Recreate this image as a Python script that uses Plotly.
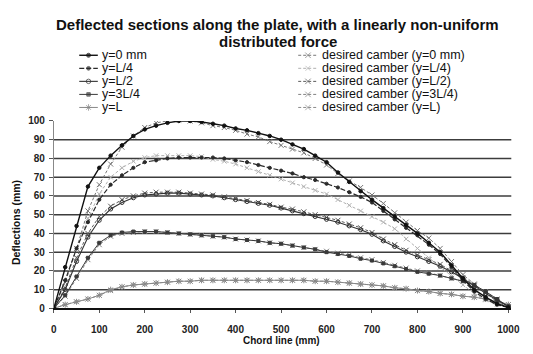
import plotly.graph_objects as go

# ---------------------------------------------------------------- data
CHORD_MM = [0, 25, 50, 75, 100, 125, 150, 175, 200, 225, 250, 275, 300, 325, 350,
            375, 400, 425, 450, 475, 500, 525, 550, 575, 600, 625, 650, 675, 700,
            725, 750, 775, 800, 825, 850, 875, 900, 925, 950, 975, 1000]

# deflected sections (mm)
defl_y0 = [0, 22, 44, 65, 75, 81.5, 87, 92, 95.5, 97.5, 99, 100, 100, 99.5, 98.5,
           97.5, 96, 95, 93.5, 92, 90, 87.5, 85, 81.5, 78, 72.5, 67.5, 62.5, 58,
           53.5, 49, 44.5, 40, 35, 30, 23, 16, 10, 6, 2.5, 0.5]
defl_yL4 = [0, 15, 32, 46, 58, 66, 71, 75, 78, 79, 80, 80.5, 80.5, 80.5, 80.5,
            80, 79, 78, 76.5, 75, 73.5, 72, 70, 68.5, 66.5, 64.5, 62, 59.5, 56.5,
            52, 47.5, 43, 39, 34, 29, 22, 15, 9, 5, 2, 0.5]
defl_yL2 = [0, 10, 25, 38, 47, 53, 56.5, 59, 60.5, 61, 61.5, 61.5, 61, 60.5, 60,
            59, 58, 57, 56, 55, 53.5, 52, 50.5, 49, 47.5, 46, 44, 42, 39.5,
            36, 33, 30, 27.5, 25, 22.5, 19.5, 16, 12, 8, 4.5, 1]
defl_y3L4 = [0, 7, 17, 27, 35, 39, 40.5, 41, 41, 41, 40.5, 40, 39.5, 39, 38.5,
             38, 37, 36.5, 36, 35, 34.5, 33.5, 32.5, 31.5, 30, 29, 28, 26.5, 25.5,
             24, 22.5, 21, 19.5, 18.5, 17.5, 16, 14.5, 12.5, 9, 5, 1]
defl_yL = [0, 2, 3.5, 5, 7, 10, 11.5, 12.5, 13, 13.5, 14, 14.5, 14.5, 15, 15,
           15, 15, 15, 15, 15, 15, 15, 15, 14.5, 14.5, 14, 13.5, 13, 12.5,
           12, 11, 10.5, 9.5, 9, 8, 7.5, 6.5, 6, 5, 3.5, 2]

# desired camber lines (mm)
camb_y0 = [0, 14, 32, 52, 66, 77, 86, 92, 96.5, 99, 100, 100.5, 100, 99, 97.5,
           96.5, 95, 93, 91.5, 89, 87, 85, 83, 80, 76.5, 72, 68, 64.5, 60.5,
           56, 51, 46, 41.5, 37.5, 32, 25, 18, 13, 8, 3.5, 0.5]
camb_yL4 = [0, 14, 32, 48, 61, 70, 75, 78.5, 80.5, 81.5, 81.5, 81.5, 81.5, 81, 79.5,
            78.5, 77, 75, 73, 71, 69, 67, 65, 63, 61, 58, 55, 52, 49,
            46, 42.5, 37, 32, 27, 22, 17, 12.5, 8, 4.5, 2, 0.5]
camb_yL2 = [0, 11, 27, 40, 49, 54.5, 58, 60, 61.5, 62, 62, 62, 61.5, 61, 60.5,
            59.5, 58.5, 57.5, 56.5, 55.5, 54, 53, 51.5, 50, 48.5, 47, 45, 43, 40.5,
            37, 34, 31, 28.5, 26, 23.5, 20, 16.5, 12.5, 8.5, 4.5, 1]
camb_y3L4 = [0, 6.5, 16, 26, 34, 38.5, 40, 40.5, 41, 41, 40.5, 40, 39.5, 39, 38.5,
             38, 37, 36.5, 36, 35, 34.5, 33.5, 32.5, 31.5, 30.5, 29.5, 28.5, 27, 26,
             24.5, 23, 21.5, 20, 19, 17.5, 16, 14.5, 12, 9, 5, 1]
camb_yL = [0, 2, 3.5, 5, 7, 9.5, 11.5, 12.5, 13, 13.5, 14, 14.5, 14.5, 15, 15,
           15, 15, 15, 15, 15, 15, 15, 15, 14.5, 14.5, 14, 13.5, 13, 12.5,
           12, 11, 10.5, 9.5, 9, 8, 7.5, 6.5, 6, 5, 4, 2]

ACTUAL_NAMES = ["y=0 mm", "y=L/4", "y=L/2", "y=3L/4", "y=L"]
CAMBER_NAMES = ["desired camber (y=0 mm)", "desired camber (y=L/4)",
                "desired camber (y=L/2)", "desired camber (y=3L/4)",
                "desired camber (y=L)"]
ACTUAL_DATA = [defl_y0, defl_yL4, defl_yL2, defl_y3L4, defl_yL]
CAMBER_DATA = [camb_y0, camb_yL4, camb_yL2, camb_y3L4, camb_yL]

Y_TICKS = [0, 10, 20, 30, 40, 50, 60, 70, 80, 90, 100]
GRID_Y = [10, 20, 30, 40, 50, 60, 70, 80, 90]
X_TICKS = [0, 100, 200, 300, 400, 500, 600, 700, 800, 900, 1000]

TITLE_LINES = ["Deflected sections along the plate, with a linearly non-uniform",
               "distributed force"]

# ---------------------------------------------------------------- styles
W, H = 533, 354
PL, PR, PT, PB = 52, 520, 119, 313          # plot area in pixels
FONT = "Liberation Sans, Arial, sans-serif"

ACTUAL_STYLE = [
    dict(color="#111111", dash="solid", symbol="circle", size=3.5, width=1.4),
    dict(color="#2a2a2a", dash="5px,2px", symbol="circle", size=3.2, width=1.2),
    dict(color="#333333", dash="solid", symbol="circle-open", size=4, width=1.1),
    dict(color="#3a3a3a", dash="solid", symbol="square", size=3, width=1.0),
    dict(color="#888888", dash="solid", symbol="asterisk-open", size=5, width=1.0),
]
CAMBER_STYLE = [
    dict(color="#777777", dash="3px,2px", symbol="x-thin-open", size=5, width=1.0),
    dict(color="#b0b0b0", dash="3px,2px", symbol="x-thin-open", size=4.5, width=1.0),
    dict(color="#5a5a5a", dash="3px,2px", symbol="x-thin-open", size=5, width=1.0),
    dict(color="#808080", dash="3px,2px", symbol="x-thin-open", size=5, width=1.0),
    dict(color="#8a8a8a", dash="3px,2px", symbol="x-thin-open", size=5, width=1.0),
]


def add_series(name, values, st):
    fig.add_trace(go.Scatter(
        x=CHORD_MM, y=values, name=name, mode="lines+markers",
        line=dict(color=st["color"], dash=st["dash"], width=st["width"]),
        marker=dict(symbol=st["symbol"], size=st["size"], color=st["color"],
                    line=dict(color=st["color"], width=1)),
        showlegend=False, xaxis="x", yaxis="y"))


fig = go.Figure()

# camber lines underneath, deflected sections on top
for name, vals, st in zip(CAMBER_NAMES[::-1], CAMBER_DATA[::-1], CAMBER_STYLE[::-1]):
    add_series(name, vals, st)
for name, vals, st in zip(ACTUAL_NAMES[::-1], ACTUAL_DATA[::-1], ACTUAL_STYLE[::-1]):
    add_series(name, vals, st)

# ---------------------------------------------------------------- legend keys
# a full-figure pixel overlay (x2/y2) carries the small legend samples
LEG_ROW0, LEG_STEP = 51, 13.5
LEG_COLS = [(78, 97, ACTUAL_NAMES, ACTUAL_STYLE), (302, 322, CAMBER_NAMES, CAMBER_STYLE)]
annotations = []
for x0, x1, names, styles in LEG_COLS:
    for i, (name, st) in enumerate(zip(names, styles)):
        yy = LEG_ROW0 + i * LEG_STEP
        fig.add_trace(go.Scatter(
            x=[x0, (x0 + x1) / 2, x1], y=[yy, yy, yy], mode="lines+markers",
            line=dict(color=st["color"], dash=st["dash"], width=st["width"]),
            marker=dict(symbol=st["symbol"], size=[0, st["size"] + 0.5, 0],
                        color=st["color"], line=dict(color=st["color"], width=1)),
            showlegend=False, hoverinfo="skip", xaxis="x2", yaxis="y2"))
        annotations.append(dict(
            text=name, x=(x1 + 2) / W, y=1 - yy / H, xref="paper", yref="paper",
            xanchor="left", yanchor="middle", showarrow=False,
            font=dict(family=FONT, size=12.5, color="#111111")))

# axis titles
annotations.append(dict(
    text="<b>Deflections (mm)</b>", x=14 / W, y=1 - 224 / H, xref="paper", yref="paper",
    textangle=-90, showarrow=False, xanchor="center", yanchor="middle",
    font=dict(family=FONT, size=10.5, color="#111111")))
annotations.append(dict(
    text="<b>Chord line (mm)</b>", x=285 / W, y=1 - 346 / H, xref="paper", yref="paper",
    showarrow=False, xanchor="center", yanchor="middle",
    font=dict(family=FONT, size=10, color="#111111")))

# two-line chart title
for line_text, ty in zip(TITLE_LINES, [19, 37]):
    annotations.append(dict(
        text="<b>" + line_text + "</b>", x=281 / W, y=1 - ty / H,
        xref="paper", yref="paper", showarrow=False,
        xanchor="center", yanchor="middle",
        font=dict(family=FONT, size=15, color="#111111")))

# horizontal grid lines
shapes = [dict(type="line", xref="x domain", yref="y", x0=0, x1=1, y0=g, y1=g,
               line=dict(color="#3c3c3c", width=1.5), layer="below") for g in GRID_Y]

x_max = 1000 * (PR - PL) / 465.0

fig.update_layout(
    width=W, height=H,
    margin=dict(l=0, r=0, t=0, b=0),
    paper_bgcolor="white", plot_bgcolor="rgba(0,0,0,0)",
    showlegend=False,
    annotations=annotations,
    shapes=shapes,
    xaxis=dict(domain=[PL / W, PR / W], range=[0, x_max], tickvals=X_TICKS,
               showgrid=False, zeroline=False, showline=True, linecolor="#111111",
               linewidth=1.5, ticks="outside", ticklen=3, tickcolor="#555555",
               ticklabelstandoff=8,
               tickfont=dict(family=FONT, size=10, color="#222222", weight="bold"),
               anchor="y"),
    yaxis=dict(domain=[1 - PB / H, 1 - PT / H], range=[0, 100], tickvals=Y_TICKS,
               showgrid=False, zeroline=False, showline=True, linecolor="#888888",
               linewidth=1, ticks="outside", ticklen=4, tickcolor="#555555",
               ticklabelstandoff=2,
               tickfont=dict(family=FONT, size=10, color="#222222", weight="bold"),
               anchor="x"),
    xaxis2=dict(domain=[0, 1], range=[0, W], visible=False, anchor="y2",
                fixedrange=True),
    yaxis2=dict(domain=[0, 1], range=[H, 0], visible=False, anchor="x2",
                fixedrange=True),
)

fig.write_html("out.html")
